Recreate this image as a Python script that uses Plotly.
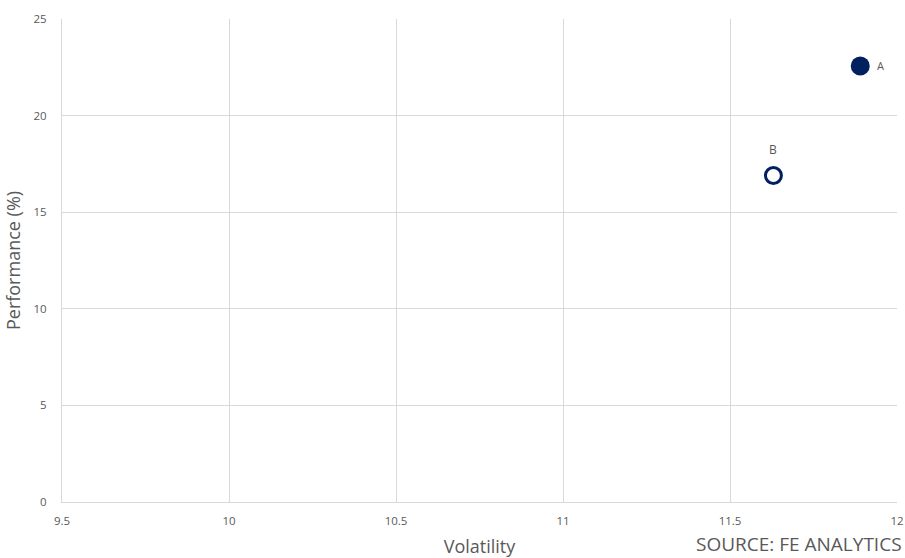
import plotly.graph_objects as go

# Fund risk/return points
funds = ["A", "B"]
volatility = [11.89, 11.63]
performance = [22.57, 16.9]

x_ticks = [9.5, 10, 10.5, 11, 11.5, 12]
x_tick_labels = ["9.5", "10", "10.5", "11", "11.5", "12"]
y_ticks = [0, 5, 10, 15, 20, 25]

navy = "#002060"
grid = "#d9d9d9"
tick_col = "#595959"
font_family = "Open Sans, Noto Sans, sans-serif"

fig = go.Figure()

fig.add_trace(go.Scatter(
    x=[volatility[0]], y=[performance[0]],
    mode="markers",
    marker=dict(size=19, color=navy, line=dict(width=0)),
    showlegend=False, hoverinfo="skip",
))
fig.add_trace(go.Scatter(
    x=[volatility[1]], y=[performance[1]],
    mode="markers",
    marker=dict(size=16, color="white", line=dict(width=3, color=navy)),
    showlegend=False, hoverinfo="skip",
))

# Point labels: A to the right of its marker, B above its marker
labels = [
    dict(x=volatility[0], y=performance[0], text=funds[0], showarrow=False,
         xanchor="left", yanchor="middle", xshift=15,
         font=dict(size=11, color=tick_col, family=font_family)),
    dict(x=volatility[1], y=performance[1], text=funds[1], showarrow=False,
         xanchor="center", yanchor="middle", yshift=26,
         font=dict(size=12, color=tick_col, family=font_family)),
]

source = dict(
    text="SOURCE: FE ANALYTICS", xref="paper", yref="paper",
    x=1.0, y=0, xanchor="right", yanchor="bottom", yshift=-57, xshift=7,
    showarrow=False, font=dict(size=19, color=tick_col, family=font_family),
)

fig.update_layout(
    width=905, height=558,
    margin=dict(l=62, r=8, t=19, b=56, autoexpand=False),
    paper_bgcolor="white", plot_bgcolor="white",
    font=dict(family=font_family, color=tick_col),
    xaxis=dict(
        range=[9.5, 12], tickvals=x_ticks, ticktext=x_tick_labels,
        showgrid=True, gridcolor=grid, gridwidth=1,
        showline=True, linecolor=grid, linewidth=1, mirror=False,
        zeroline=False, ticks="", tickfont=dict(size=11.5, color=tick_col),
        ticklabelstandoff=8,
        title=dict(text="Volatility", font=dict(size=18, color=tick_col), standoff=14),
    ),
    yaxis=dict(
        range=[0, 25], tickvals=y_ticks,
        showgrid=True, gridcolor=grid, gridwidth=1,
        showline=True, linecolor=grid, linewidth=1,
        zeroline=False, ticks="", tickfont=dict(size=11.5, color=tick_col),
        ticklabelstandoff=12,
        title=dict(text="Performance (%)", font=dict(size=18, color=tick_col), standoff=8),
    ),
    annotations=labels + [source],
)

fig.write_html("out.html")
